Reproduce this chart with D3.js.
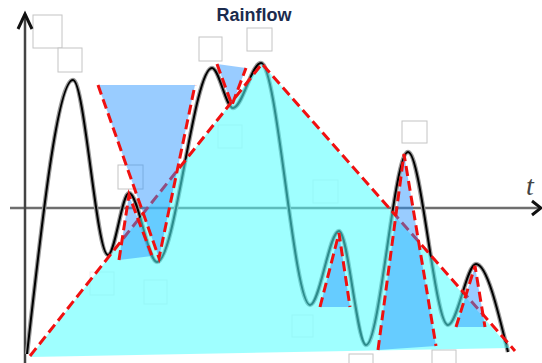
<!DOCTYPE html>
<html>
<head>
<meta charset="utf-8">
<script src="https://cdn.jsdelivr.net/npm/d3@7"></script>
<style>
  html, body { margin: 0; padding: 0; background: #fff; }
  svg { display: block; }
</style>
</head>
<body>
<svg id="chart"></svg>
<script>
// signal turning points (t, value)
const signalT = [2, 48, 83, 104, 132, 187, 208, 236, 285, 314, 341, 383, 423, 451, 483];
const signalV = [-146, 128, -47, 15, -54, 140, 100, 145, -97, -23, -137, 56, -117, -56, -144];

// big cycle envelope
const envelope = [[5, -149], [237, 144], [485, -140]];
const envLines = [
  [[5, -148], [236, 143]],
  [[238, 143], [490, -143]]
];

// half cycles: [tip, corner a, corner b]
const halfCycles = [
  [[134, -50], [73, 123], [170, 123]],
  [[104, 13], [94, -52], [127, -48]],
  [[207, 103], [192, 144], [221, 140]],
  [[314, -25], [295, -99], [325, -99]],
  [[379, 54], [353, -142], [411, -138]],
  [[450, -58], [431, -119], [460, -119]]
];

// empty label boxes [t0, v0, t1, v1]
const labelBoxes = [
  [8, 193, 37, 160], [33, 160, 57, 136], [174, 171, 197, 147],
  [222, 180, 247, 157], [377, 87, 402, 65], [93, 43, 118, 19],
  [324, -146, 348, -160], [407, -142, 431, -160]
];
// boxes that only show faintly through the fill
const ghostBoxes = [
  [65, -64, 89, -87], [119, -72, 142, -96], [193, 83, 217, 60],
  [288, 28, 313, 5], [267, -107, 288, -129]
];

const width = 542;
const height = 363;

const svg = d3.select('#chart')
  .attr('width', width)
  .attr('height', height);

const x = d3.scaleLinear().domain([0, 500]).range([25, 525]);
const y = d3.scaleLinear().domain([-150, 200]).range([358, 8]);

const boxes = (data, color) => svg.append('g').selectAll('rect')
  .data(data)
  .join('rect')
  .attr('x', (d) => x(d[0]))
  .attr('y', (d) => y(d[1]))
  .attr('width', (d) => x(d[2]) - x(d[0]))
  .attr('height', (d) => y(d[3]) - y(d[1]))
  .attr('fill', '#fff')
  .attr('stroke', color)
  .attr('stroke-width', 1);

// boxes sit underneath everything
boxes(ghostBoxes, '#eeeeee');
boxes(labelBoxes, '#c4c4c4');

// axes
svg.append('line')
  .attr('x1', x(-15)).attr('x2', x(514))
  .attr('y1', y(0)).attr('y2', y(0))
  .attr('stroke', '#6e6e6e')
  .attr('stroke-width', 2.5);
svg.append('line')
  .attr('x1', x(0)).attr('x2', x(0))
  .attr('y1', y(194)).attr('y2', y(-160))
  .attr('stroke', '#444')
  .attr('stroke-width', 2.5);

// signal
const signal = signalT.map((t, i) => [t, signalV[i]]);
const line = d3.line()
  .x((d) => x(d[0]))
  .y((d) => y(d[1]))
  .curve(d3.curveMonotoneX);

svg.append('path')
  .datum(signal)
  .attr('d', line)
  .attr('fill', 'none')
  .attr('stroke', '#9a9a9a')
  .attr('stroke-width', 4.4);
svg.append('path')
  .datum(signal)
  .attr('d', line)
  .attr('fill', 'none')
  .attr('stroke', '#000')
  .attr('stroke-width', 2);

const poly = d3.line()
  .x((d) => x(d[0]))
  .y((d) => y(d[1]));

// envelope
svg.append('path')
  .datum(envelope)
  .attr('d', (d) => poly(d) + 'Z')
  .attr('fill', 'rgb(80,255,255)')
  .attr('fill-opacity', 0.55);

const dash = (sel) => sel
  .attr('fill', 'none')
  .attr('stroke', '#f01010')
  .attr('stroke-width', 3)
  .attr('stroke-dasharray', '10,5');

svg.append('g').selectAll('path')
  .data(envLines)
  .join('path')
  .attr('d', poly)
  .call(dash);

// half cycles
svg.append('g').selectAll('path')
  .data(halfCycles)
  .join('path')
  .attr('d', (d) => poly(d) + 'Z')
  .attr('fill', 'rgb(38,147,255)')
  .attr('fill-opacity', 0.47);

svg.append('g').selectAll('path')
  .data(halfCycles)
  .join('path')
  .attr('d', (d) => poly([d[1], d[0], d[2]]))
  .call(dash);

// arrow heads
const ax = x(0);
const ay = y(0);
svg.append('path')
  .attr('d', `M${ax - 7},${y(194) + 15}L${ax},${y(194)}L${ax + 7},${y(194) + 15}`)
  .attr('fill', 'none')
  .attr('stroke', '#111')
  .attr('stroke-width', 3);
svg.append('path')
  .attr('d', `M${x(507)},${ay - 7}L${x(516)},${ay}L${x(507)},${ay + 7}`)
  .attr('fill', 'none')
  .attr('stroke', '#111')
  .attr('stroke-width', 3);

svg.append('text')
  .attr('x', x(501))
  .attr('y', y(13))
  .attr('font-family', '"Liberation Serif", "DejaVu Serif", serif')
  .attr('font-style', 'italic')
  .attr('font-size', 28)
  .attr('fill', '#444')
  .text('t');

svg.append('text')
  .attr('x', 254)
  .attr('y', 21)
  .attr('text-anchor', 'middle')
  .attr('font-family', '"Liberation Sans", Arial, sans-serif')
  .attr('font-weight', 'bold')
  .attr('font-size', 18)
  .attr('fill', '#1b2b4d')
  .text('Rainflow');
</script>
</body>
</html>
